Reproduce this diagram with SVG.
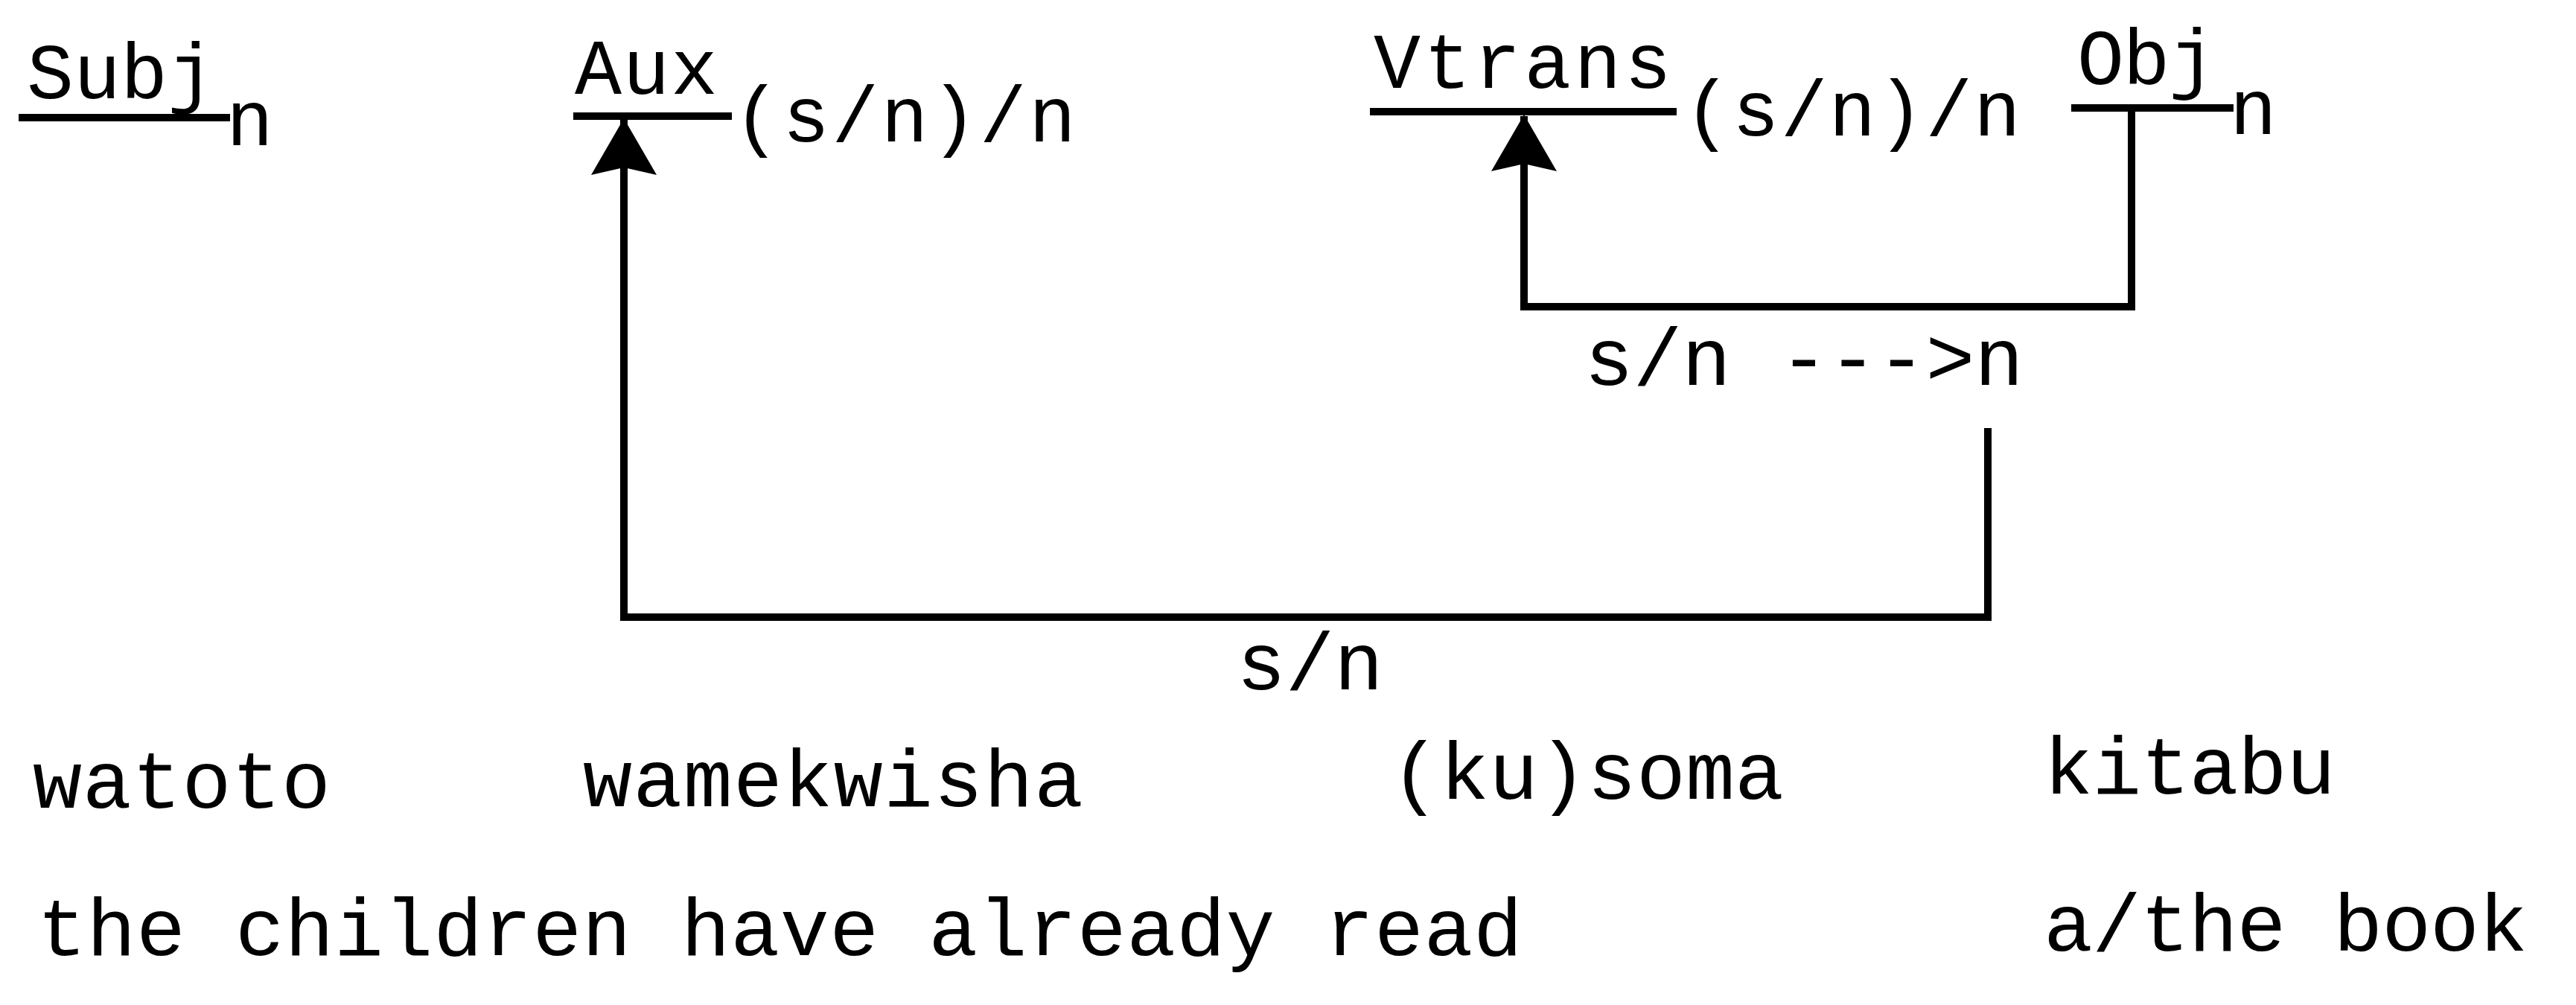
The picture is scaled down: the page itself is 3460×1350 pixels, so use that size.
<svg xmlns="http://www.w3.org/2000/svg" width="3460" height="1350" viewBox="0 0 3460 1350">
  <style>
    .lbl { font-family: "Liberation Mono", "Courier New", monospace; font-size: 105px; fill: #000; }
    .txt { font-family: "Liberation Mono", "Courier New", monospace; font-size: 110px; fill: #000; }
    .ul { stroke: #000; stroke-width: 10; fill: none; }
    .conn { stroke: #000; stroke-width: 10; fill: none; stroke-linejoin: miter; }
  </style>
  <defs>
    <marker id="head" markerUnits="userSpaceOnUse" viewBox="0 0 80 92" markerWidth="80" markerHeight="92" refX="76" refY="46" orient="auto">
      <path d="M78,46 L2,2 L12,46 L2,90 Z" fill="#000"/>
    </marker>
  </defs>
  <rect width="3460" height="1350" fill="#fff"/>

  <!-- category nodes -->
  <g id="subj">
    <text class="lbl" x="36" y="132" textLength="252" lengthAdjust="spacing">Subj</text>
    <line class="ul" x1="25" y1="158" x2="309" y2="158"/>
    <text class="lbl" x="304" y="195">n</text>
  </g>
  <g id="aux">
    <text class="lbl" x="772" y="126" textLength="192" lengthAdjust="spacing">Aux</text>
    <line class="ul" x1="770" y1="156" x2="983" y2="156"/>
    <text class="lbl" x="985" y="190" textLength="460" lengthAdjust="spacing">(s/n)/n</text>
  </g>
  <g id="vtrans">
    <text class="lbl" x="1845" y="118" textLength="400" lengthAdjust="spacing">Vtrans</text>
    <line class="ul" x1="1840" y1="150" x2="2252" y2="150"/>
    <text class="lbl" x="2262" y="182" textLength="452" lengthAdjust="spacing">(s/n)/n</text>
  </g>
  <g id="obj">
    <text class="lbl" x="2790" y="113" textLength="186" lengthAdjust="spacing">Obj</text>
    <line class="ul" x1="2782" y1="145" x2="3000" y2="145"/>
    <text class="lbl" x="2995" y="180">n</text>
  </g>

  <!-- combination results -->
  <g id="res-inner">
    <text class="txt" x="2128" y="517" textLength="590" lengthAdjust="spacing">s/n ---&gt;n</text>
  </g>
  <g id="res-outer">
    <text class="txt" x="1661" y="926" textLength="197" lengthAdjust="spacing">s/n</text>
  </g>

  <!-- connectors -->
  <g id="connectors">
    <path class="conn" d="M2863,145 V412 H2047 V156" marker-end="url(#head)"/>
    <path class="conn" d="M2670,575 V829 H838 V161" marker-end="url(#head)"/>
  </g>

  <!-- example sentence and gloss -->
  <g id="swahili">
    <text class="txt" x="44" y="1085" textLength="400" lengthAdjust="spacing">watoto</text>
    <text class="txt" x="783" y="1083" textLength="672" lengthAdjust="spacing">wamekwisha</text>
    <text class="txt" x="1868" y="1073" textLength="528" lengthAdjust="spacing">(ku)soma</text>
    <text class="txt" x="2745" y="1066" textLength="392" lengthAdjust="spacing">kitabu</text>
  </g>
  <g id="gloss">
    <text class="txt" x="50" y="1283" textLength="1995" lengthAdjust="spacing">the children have already read</text>
    <text class="txt" x="2745" y="1277" textLength="650" lengthAdjust="spacing">a/the book</text>
  </g>
</svg>
